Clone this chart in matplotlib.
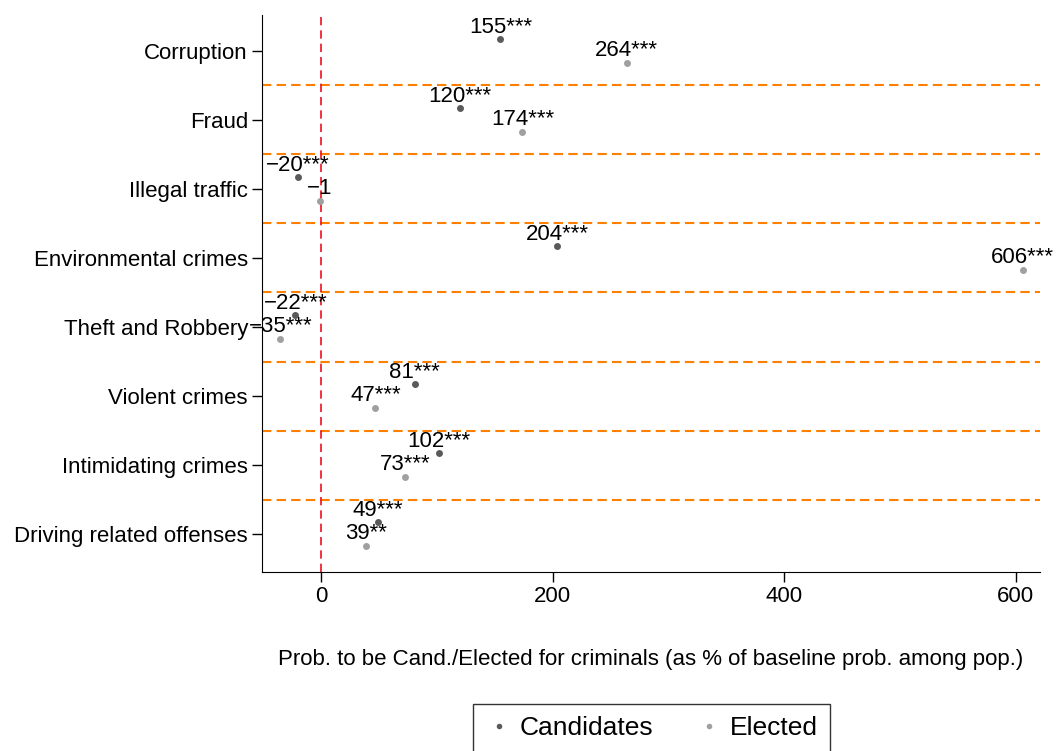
import matplotlib
matplotlib.use("Agg")
import matplotlib.pyplot as plt
from matplotlib.lines import Line2D

plt.rcParams['font.family'] = ['Liberation Sans', 'DejaVu Sans']

categories = ["Corruption", "Fraud", "Illegal traffic", "Environmental crimes",
              "Theft and Robbery", "Violent crimes", "Intimidating crimes",
              "Driving related offenses"]
cand_vals = [155, 120, -20, 204, -22, 81, 102, 49]
cand_stars = ["***", "***", "***", "***", "***", "***", "***", "***"]
elec_vals = [264, 174, -1, 606, -35, 47, 73, 39]
elec_stars = ["***", "***", "", "***", "***", "***", "***", "**"]
xticks = [0, 200, 400, 600]

cand_col = "#5a5a5a"
elec_col = "#a0a0a0"
off = 0.17
fs = 16

def lab(v, s):
    t = str(abs(v))
    if v < 0:
        t = "\u2212" + t
    return t + s

fig = plt.figure(figsize=(10.56, 7.51), dpi=100)
ax = fig.add_axes([0.248, 0.2383, 0.737, 0.7417])

for i, c in enumerate(categories):
    yc = i - off
    ye = i + off
    ax.plot(cand_vals[i], yc, 'o', color=cand_col, ms=5, mec='none', zorder=3)
    ax.plot(elec_vals[i], ye, 'o', color=elec_col, ms=5, mec='none', zorder=3)
    ax.annotate(lab(cand_vals[i], cand_stars[i]), (cand_vals[i], yc), xytext=(0, 1),
                textcoords='offset points', ha='center', va='bottom', fontsize=fs)
    ax.annotate(lab(elec_vals[i], elec_stars[i]), (elec_vals[i], ye), xytext=(0, 1),
                textcoords='offset points', ha='center', va='bottom', fontsize=fs)

for i in range(len(categories) - 1):
    ax.axhline(i + 0.5, color='#ff8000', ls=(0, (4.5, 2.5)), lw=1.5, zorder=1)
ax.axvline(0, color='#f01020', ls=(0, (5, 3)), lw=1.2, zorder=1)

ax.set_xlim(-51, 621)
ax.set_ylim(len(categories) - 0.45, -0.52)
ax.set_yticks(range(len(categories)))
ax.set_yticklabels(categories, fontsize=fs)
ax.set_xticks(xticks)
ax.set_xticklabels([str(x) for x in xticks], fontsize=fs)
ax.tick_params(length=7, width=1, pad=3)
ax.spines['top'].set_visible(False)
ax.spines['right'].set_visible(False)
ax.set_xlabel("Prob. to be Cand./Elected for criminals (as % of baseline prob. among pop.)",
              fontsize=fs, labelpad=30)

handles = [Line2D([], [], marker='o', color=cand_col, mec='none', ls='none', ms=4),
           Line2D([], [], marker='o', color=elec_col, mec='none', ls='none', ms=4)]
fig.legend(handles, ["Candidates", "Elected"], loc='upper center', bbox_to_anchor=(0.617, 0.0626),
           ncol=2, frameon=True, fancybox=False, edgecolor='black', fontsize=19,
           handletextpad=0.3, columnspacing=1.6, borderpad=0.45, handlelength=1.0,
           borderaxespad=0)

fig.savefig("out.png", dpi=100)
